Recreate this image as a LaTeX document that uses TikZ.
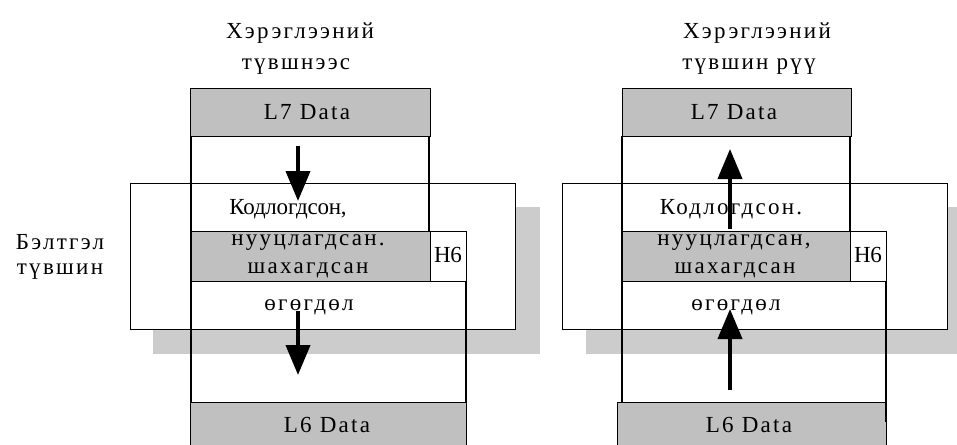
\documentclass[tikz,border=0pt]{standalone}
\usepackage{fontspec}
\setmainfont{Liberation Serif}[LetterSpace=10]
\usepackage{tikz}
\usetikzlibrary{arrows.meta}
\definecolor{boxgray}{RGB}{192,192,192}
\definecolor{shadowgray}{RGB}{204,204,204}

\begin{document}
\begin{tikzpicture}[x=1pt,y=-1pt,
  lbl/.style={inner sep=0pt,font=\fontsize{23}{27}\selectfont},
  tight/.style={font=\fontsize{23}{27}\selectfont\addfontfeature{LetterSpace=-1}},
  frame/.style={draw,line width=0.8pt},
  wall/.style={line width=1.8pt},
  flow/.style={line width=4pt,-{Triangle[length=30pt,width=24pt]}}]
% Бэлтгэл түвшин: кодлох, нууцлах, шахах
\useasboundingbox (0,0) rectangle (957,444);
\fill[shadowgray] (153,207) rectangle (540,354);
\fill[shadowgray] (586,207) rectangle (960,354);
\draw[frame,fill=white] (130,183) rectangle (515,329);
\draw[frame,fill=white] (562,183) rectangle (947,329);
% зүүн багана
\draw[wall] (191,136) -- (191,402);
\draw[wall] (429,136) -- (429,231);
\draw[wall] (466,281) -- (466,402);
\draw[frame,fill=boxgray] (191,231) rectangle (430,281);
\draw[frame,fill=white] (430,231) rectangle (466,281);
\draw[frame,fill=boxgray] (190,88) rectangle (430,136);
\draw[frame,fill=boxgray] (190,402) rectangle (466,448);
% баруун багана
\draw[wall] (622,136) -- (622,402);
\draw[wall] (850,136) -- (850,231);
\draw[wall] (886,281) -- (886,422);
\draw[frame,fill=boxgray] (622,231) rectangle (850,281);
\draw[frame,fill=white] (850,231) rectangle (886,281);
\draw[frame,fill=boxgray] (622,88) rectangle (851,136);
\draw[frame,fill=boxgray] (617,402) rectangle (886,448);
\draw[wall] (886,402) -- (886,422);
% бичвэрүүд
\node[lbl] (titleL1) at (300,33) {Хэрэглээний};
\node[lbl] (titleL2) at (296,67) {түвшнээс};
\node[lbl] (titleR1) at (757,33) {Хэрэглээний};
\node[lbl] (titleR2) at (749,67) {түвшин рүү};
\node[lbl] (layer1) at (60,242) {Бэлтгэл};
\node[lbl] (layer2) at (60,272) {түвшин};
\node[lbl] (l7L) at (307,112) {L7 Data};
\node[lbl] (l7R) at (734,112) {L7 Data};
\node[lbl,tight] (codL) at (288,209) {Кодлогдсон,};
\node[lbl] (codR) at (731,209) {Кодлогдсон.};
\node[lbl] (secL) at (308,243) {нууцлагдсан.};
\node[lbl] (secR) at (734,243) {нууцлагдсан,};
\node[lbl] (zipL) at (308,270) {шахагдсан};
\node[lbl] (zipR) at (735,270) {шахагдсан};
\node[lbl] (datL) at (309,307) {өгөгдөл};
\node[lbl] (datR) at (736,307) {өгөгдөл};
\node[lbl,tight] (h6L) at (448,255) {Н6};
\node[lbl,tight] (h6R) at (868,255) {Н6};
\node[lbl] (l6L) at (327,425) {L6 Data};
\node[lbl] (l6R) at (749,425) {L6 Data};
% сумнууд
\coordinate (downA1) at (298,146);
\coordinate (downA2) at (298,201);
\coordinate (downB1) at (298,311);
\coordinate (downB2) at (298,375);
\coordinate (upA1) at (730,229);
\coordinate (upA2) at (730,149);
\coordinate (upB1) at (730,390);
\coordinate (upB2) at (730,309);
\draw[flow] (downA1) -- (downA2);
\draw[flow] (downB1) -- (downB2);
\draw[flow] (upA1) -- (upA2);
\draw[flow] (upB1) -- (upB2);
\end{tikzpicture}
\end{document}
